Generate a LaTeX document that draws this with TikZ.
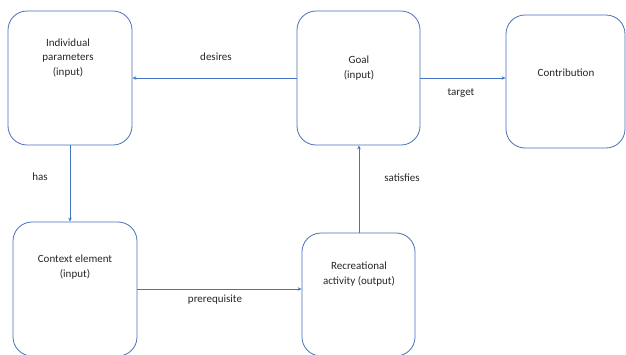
\documentclass[tikz,border=0pt]{standalone}
\usepackage{fontspec}
\setmainfont{Carlito}
\usetikzlibrary{arrows.meta}
\definecolor{boxblue}{HTML}{4A6FB8}
\definecolor{linkblue}{HTML}{4472C4}
\tikzset{
  box/.style={draw=boxblue, line width=0.8pt, rounded corners=19pt, minimum width=#1},
  box/.default=124pt,
  txt/.style={font=\fontsize{11}{14.5}\selectfont, align=center, text=black!85, inner sep=0pt},
  link/.style={draw=linkblue, line width=0.7pt, -{Stealth[length=4pt,width=3.5pt]}},
  lbl/.style={font=\fontsize{11}{13}\selectfont, text=black!85, inner sep=0pt}
}
\begin{document}
\begin{tikzpicture}[x=1pt,y=-1pt]
\useasboundingbox (0,0) rectangle (626,354);
\clip (0,0) rectangle (626,354);
% boxes
\node[box, draw, minimum height=134pt, inner sep=0pt] (ind) at (70,78) {};
\node[box, draw, minimum width=123pt, minimum height=134pt, inner sep=0pt] (goal) at (358.5,78) {};
\node[box, draw, minimum width=119pt, minimum height=133pt, inner sep=0pt] (contr) at (565.5,81.5) {};
\node[box, draw, minimum height=134pt, inner sep=0pt] (ctx) at (75,289) {};
\node[box, draw, minimum width=113pt, minimum height=123pt, inner sep=0pt] (rec) at (358.5,294.5) {};
% texts
\node[txt] (tind) at (68,58) {Individual\\parameters\\(input)};
\node[txt] (tgoal) at (359,68) {Goal\\(input)};
\node[txt] (tcontr) at (566,73) {Contribution};
\node[txt] (tctx) at (75,267) {Context element\\(input)};
\node[txt] (trec) at (359,274) {Recreational\\activity (output)};
% connectors
\draw[link] (goal.west |- 0,78) -- (ind.east |- 0,78);
\draw[link] (goal.east |- 0,78) -- (contr.west |- 0,78);
\draw[link] (70,145) coordinate (hs) -- (ctx.north -| hs);
\draw[link] (rec.north -| 359,0) -- (goal.south -| 359,0);
\draw[link] (ctx.east |- 0,289) -- (rec.west |- 0,289);
% labels
\node[lbl] (ldes) at (216,57) {desires};
\node[lbl] (ltar) at (461,93) {target};
\node[lbl] (lhas) at (40,177) {has};
\node[lbl] (lsat) at (402,178) {satisfies};
\node[lbl] (lpre) at (215,300) {prerequisite};
\end{tikzpicture}
\end{document}
